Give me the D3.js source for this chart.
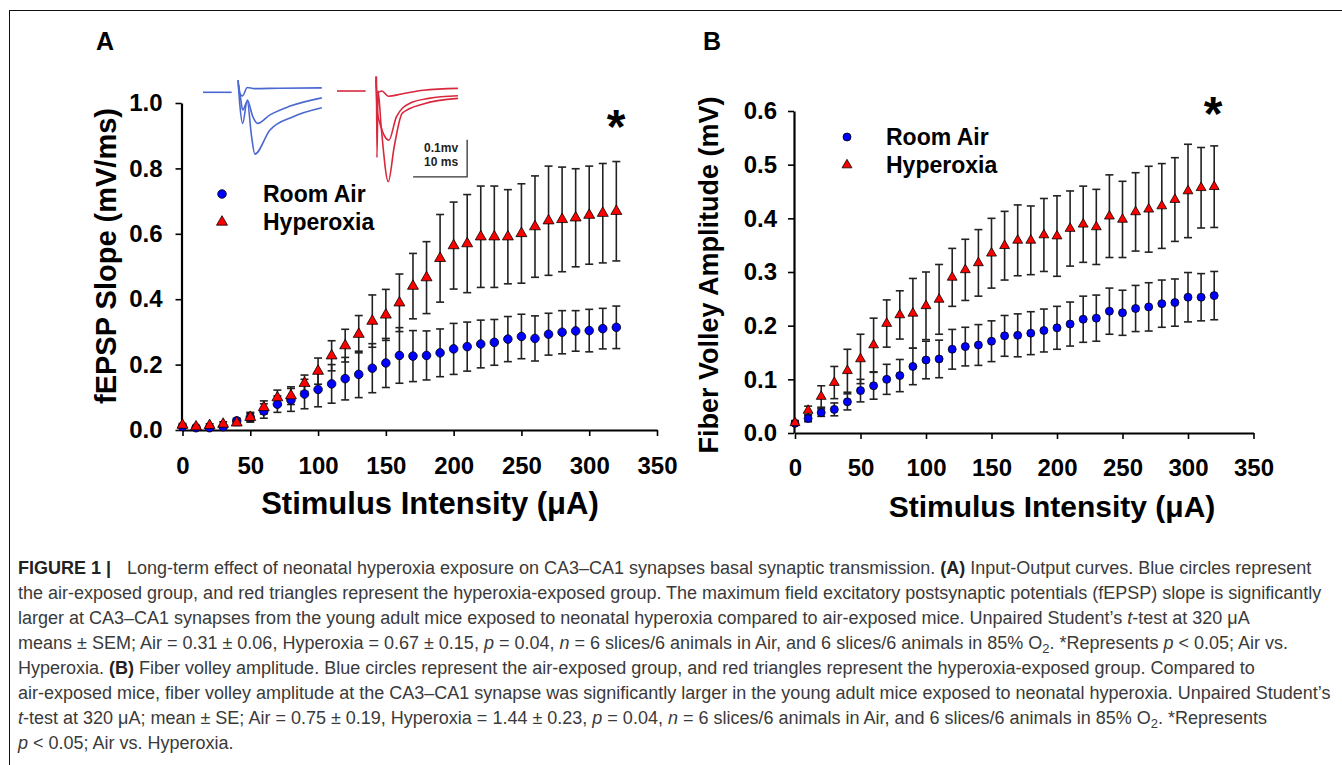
<!DOCTYPE html>
<html>
<head>
<meta charset="utf-8">
<script src="https://cdn.jsdelivr.net/npm/d3@7"></script>
<style>
  body { margin: 0; background: #fff; }
  svg { display: block; }
</style>
</head>
<body>
<svg id="fig" width="1342" height="765"></svg>
<script>
// stimulus intensities (uA)
const stimulus = [0, 10, 20, 30, 40, 50, 60, 70, 80, 90, 100, 110, 120, 130, 140, 150, 160,
  170, 180, 190, 200, 210, 220, 230, 240, 250, 260, 270, 280, 290, 300, 310, 320];
const xTicks = [0, 50, 100, 150, 200, 250, 300, 350];

// panel A: fEPSP slope (mV/ms), mean and SEM
const slopeAir = [0.010, 0.007, 0.007, 0.010, 0.028, 0.039, 0.058, 0.079, 0.092, 0.110, 0.124,
  0.141, 0.157, 0.170, 0.189, 0.205, 0.228, 0.226, 0.228, 0.236, 0.248, 0.255, 0.263, 0.268,
  0.278, 0.286, 0.280, 0.293, 0.299, 0.303, 0.304, 0.310, 0.314];
const slopeAirSem = [0.004, 0.004, 0.004, 0.005, 0.008, 0.012, 0.022, 0.025, 0.035, 0.045, 0.053,
  0.059, 0.065, 0.071, 0.075, 0.075, 0.085, 0.078, 0.075, 0.073, 0.078, 0.075, 0.073, 0.070,
  0.069, 0.068, 0.069, 0.064, 0.066, 0.062, 0.065, 0.062, 0.065];
const slopeHyp = [0.015, 0.010, 0.014, 0.018, 0.022, 0.039, 0.069, 0.099, 0.105, 0.143, 0.180,
  0.227, 0.258, 0.293, 0.333, 0.352, 0.389, 0.440, 0.466, 0.525, 0.564, 0.570, 0.591, 0.591,
  0.591, 0.601, 0.622, 0.640, 0.644, 0.649, 0.657, 0.663, 0.669];
const slopeHypSem = [0.005, 0.004, 0.005, 0.007, 0.008, 0.015, 0.020, 0.023, 0.027, 0.025, 0.040,
  0.046, 0.050, 0.057, 0.080, 0.078, 0.088, 0.100, 0.110, 0.134, 0.133, 0.150, 0.155, 0.155,
  0.144, 0.152, 0.155, 0.167, 0.160, 0.150, 0.150, 0.152, 0.152];
const slopeTicks = [0, 0.2, 0.4, 0.6, 0.8, 1.0];

// panel B: fiber volley amplitude (mV), mean and SEM
const fvAir = [0.018, 0.027, 0.038, 0.044, 0.058, 0.079, 0.088, 0.100, 0.107, 0.124, 0.136,
  0.138, 0.156, 0.161, 0.164, 0.171, 0.181, 0.182, 0.186, 0.191, 0.196, 0.203, 0.212, 0.214,
  0.227, 0.224, 0.232, 0.235, 0.241, 0.243, 0.253, 0.253, 0.256];
const fvAirSem = [0.003, 0.006, 0.007, 0.012, 0.015, 0.021, 0.025, 0.028, 0.030, 0.034, 0.035,
  0.035, 0.037, 0.036, 0.038, 0.038, 0.038, 0.040, 0.040, 0.040, 0.040, 0.041, 0.043, 0.043,
  0.043, 0.042, 0.043, 0.045, 0.044, 0.044, 0.046, 0.044, 0.045];
const fvHyp = [0.019, 0.042, 0.068, 0.094, 0.116, 0.138, 0.164, 0.204, 0.220, 0.223, 0.237,
  0.249, 0.290, 0.304, 0.317, 0.335, 0.349, 0.359, 0.359, 0.369, 0.367, 0.381, 0.389, 0.384,
  0.404, 0.398, 0.412, 0.417, 0.423, 0.435, 0.451, 0.457, 0.459];
const fvHypSem = [0.004, 0.008, 0.020, 0.030, 0.040, 0.046, 0.050, 0.044, 0.045, 0.065, 0.063,
  0.065, 0.054, 0.057, 0.062, 0.065, 0.064, 0.066, 0.064, 0.068, 0.075, 0.070, 0.071, 0.070,
  0.077, 0.071, 0.073, 0.080, 0.079, 0.078, 0.087, 0.075, 0.076];
const fvTicks = [0, 0.1, 0.2, 0.3, 0.4, 0.5, 0.6];

// inset example traces, [time ms, mV]
const airTraces = [
  [[0, 0], [5.3, 0]],
  [[6.5, 0.033], [6.7, 0.0], [7.3, -0.010], [8.2, 0.013], [9.5, 0.010], [14, 0.011], [22, 0.012]],
  [[6.5, 0.033], [6.8, -0.03], [7.35, -0.084], [8.2, -0.021], [9.2, -0.065], [10.1, -0.084], [12.4, -0.061], [16, -0.038], [22, -0.015]],
  [[6.6, 0.02], [7.0, -0.02], [7.35, -0.048], [8.2, -0.025], [9.0, -0.12], [9.6, -0.167], [12.4, -0.102], [16.7, -0.066], [22, -0.042]]
];
const hypTraces = [
  [[0, 0], [5.3, 0]],
  [[7.2, 0.039], [7.4, -0.005], [8.3, 0.0], [9.5, -0.014], [12, -0.008], [16, 0.002], [22.4, 0.007]],
  [[7.2, 0.03], [7.5, -0.06], [8.0, -0.09], [9.6, -0.133], [11, -0.07], [13.5, -0.033], [17, -0.02], [22.4, -0.013]],
  [[7.3, 0.039], [7.4, -0.18], [7.6, 0.0], [8.2, -0.1], [9.5, -0.245], [10.6, -0.15], [12.1, -0.06], [16, -0.035], [22.4, -0.02]]
];
const scaleBar = { t: 14.1, v: -0.232, dt: 10, dv: 0.1, labels: ["0.1mv", "10 ms"] };

const seriesNames = ["Room Air", "Hyperoxia"];

// caption lines: [text, style]
const caption = [
  [["FIGURE 1 |", "b"], ["Long-term effect of neonatal hyperoxia exposure on CA3–CA1 synapses basal synaptic transmission. ", "gap"], ["(A)", "b"], [" Input-Output curves. Blue circles represent"]],
  [["the air-exposed group, and red triangles represent the hyperoxia-exposed group. The maximum field excitatory postsynaptic potentials (fEPSP) slope is significantly"]],
  [["larger at CA3–CA1 synapses from the young adult mice exposed to neonatal hyperoxia compared to air-exposed mice. Unpaired Student’s "], ["t", "i"], ["-test at 320 μA"]],
  [["means ± SEM; Air = 0.31 ± 0.06, Hyperoxia = 0.67 ± 0.15, "], ["p", "i"], [" = 0.04, "], ["n", "i"], [" = 6 slices/6 animals in Air, and 6 slices/6 animals in 85% O"], ["2", "sub"], [". *Represents "], ["p", "i"], [" < 0.05; Air vs."]],
  [["Hyperoxia. "], ["(B)", "b"], [" Fiber volley amplitude. Blue circles represent the air-exposed group, and red triangles represent the hyperoxia-exposed group. Compared to"]],
  [["air-exposed mice, fiber volley amplitude at the CA3–CA1 synapse was significantly larger in the young adult mice exposed to neonatal hyperoxia. Unpaired Student’s"]],
  [["t", "i"], ["-test at 320 μA; mean ± SE; Air = 0.75 ± 0.19, Hyperoxia = 1.44 ± 0.23, "], ["p", "i"], [" = 0.04, "], ["n", "i"], [" = 6 slices/6 animals in Air, and 6 slices/6 animals in 85% O"], ["2", "sub"], [". *Represents"]],
  [["p", "i"], [" < 0.05; Air vs. Hyperoxia."]]
];

const FONT = "'Liberation Sans', Arial, Helvetica, sans-serif";
const svg = d3.select("#fig").style("font-family", FONT);

svg.append("rect").attr("width", 1342).attr("height", 765).attr("fill", "#fff");

// outer frame
svg.append("rect")
  .attr("x", 9.5).attr("y", 10.5)
  .attr("width", 1340).attr("height", 770)
  .attr("fill", "none").attr("stroke", "#111").attr("stroke-width", 1);

function drawPanel(cfg) {
  const x = d3.scaleLinear().domain([0, 350]).range(cfg.xRange);
  const y = d3.scaleLinear().domain(cfg.yDomain).range(cfg.yRange);
  const g = svg.append("g");

  // x axis
  const gx = g.append("g")
    .attr("transform", `translate(0,${cfg.yRange[0]})`)
    .call(d3.axisBottom(x).tickValues(xTicks).tickSize(6).tickSizeOuter(0).tickPadding(cfg.xPad));
  // y axis
  const gy = g.append("g")
    .attr("transform", `translate(${cfg.xRange[0] - 1},0)`)
    .call(d3.axisLeft(y).tickValues(cfg.yTicks).tickSize(6).tickSizeOuter(0)
      .tickPadding(cfg.yPad).tickFormat(d3.format(".1f")));

  [gx, gy].forEach((a) => {
    a.select(".domain").attr("stroke", "#000").attr("stroke-width", 2.2);
    a.selectAll(".tick line").attr("stroke", "#000").attr("stroke-width", 1.6);
    a.selectAll(".tick text")
      .attr("fill", "#000")
      .attr("font-family", FONT)
      .attr("font-weight", "bold")
      .attr("font-size", 24);
  });

  // axis titles
  g.append("text")
    .attr("x", cfg.xTitle[0]).attr("y", cfg.xTitle[1])
    .attr("text-anchor", "middle")
    .attr("font-weight", "bold").attr("font-size", cfg.xTitleSize)
    .text("Stimulus Intensity (μA)");
  g.append("text")
    .attr("transform", `translate(${cfg.yTitle[0]},${cfg.yTitle[1]}) rotate(-90)`)
    .attr("text-anchor", "middle")
    .attr("font-weight", "bold").attr("font-size", cfg.yTitleSize)
    .text(cfg.yLabel);

  // panel letter
  g.append("text")
    .attr("x", cfg.letter[0]).attr("y", cfg.letter[1])
    .attr("text-anchor", "middle")
    .attr("font-weight", "bold").attr("font-size", 25)
    .text(cfg.name);

  // significance star
  g.append("text")
    .attr("x", cfg.star[0]).attr("y", cfg.star[1])
    .attr("text-anchor", "middle")
    .attr("font-weight", "bold").attr("font-size", 48)
    .text("*");

  const series = [
    { mean: cfg.air, sem: cfg.airSem },
    { mean: cfg.hyp, sem: cfg.hypSem }
  ];

  // error bars
  const cap = 4;
  series.forEach((s) => {
    const eb = g.append("g").attr("stroke", "#222").attr("stroke-width", 1.6);
    stimulus.forEach((u, i) => {
      const lo = y(s.mean[i] - s.sem[i]);
      const hi = y(s.mean[i] + s.sem[i]);
      const cx = x(u);
      eb.append("line").attr("x1", cx).attr("x2", cx).attr("y1", lo).attr("y2", hi);
      eb.append("line").attr("x1", cx - cap).attr("x2", cx + cap).attr("y1", lo).attr("y2", lo);
      eb.append("line").attr("x1", cx - cap).attr("x2", cx + cap).attr("y1", hi).attr("y2", hi);
    });
  });

  // markers
  g.append("g").selectAll("circle")
    .data(stimulus)
    .join("circle")
    .attr("cx", (u) => x(u))
    .attr("cy", (u, i) => y(cfg.air[i]))
    .attr("r", cfg.r)
    .attr("fill", "#0000ff").attr("stroke", "#000").attr("stroke-width", 0.8);

  const tri = d3.symbol(d3.symbolTriangle).size(cfg.triSize);
  g.append("g").selectAll("path")
    .data(stimulus)
    .join("path")
    .attr("transform", (u, i) => `translate(${x(u)},${y(cfg.hyp[i])})`)
    .attr("d", tri)
    .attr("fill", "#ff0000").attr("stroke", "#000").attr("stroke-width", 0.8);

  // legend
  const lg = g.append("g");
  lg.append("circle")
    .attr("cx", cfg.legend[0]).attr("cy", cfg.legend[1]).attr("r", cfg.r)
    .attr("fill", "#0000ff").attr("stroke", "#000").attr("stroke-width", 0.8);
  lg.append("path")
    .attr("transform", `translate(${cfg.legend[0]},${cfg.legend[1] + 28})`)
    .attr("d", tri)
    .attr("fill", "#ff0000").attr("stroke", "#000").attr("stroke-width", 0.8);
  seriesNames.forEach((nm, i) => {
    lg.append("text")
      .attr("x", cfg.legend[2]).attr("y", cfg.legend[1] + 8 + i * 28)
      .attr("font-weight", "bold").attr("font-size", 23)
      .text(nm);
  });
}

drawPanel({
  name: "A",
  xRange: [182.5, 657], yDomain: [0, 1], yRange: [430, 103],
  yTicks: slopeTicks, xPad: 21, yPad: 13,
  air: slopeAir, airSem: slopeAirSem, hyp: slopeHyp, hypSem: slopeHypSem,
  yLabel: "fEPSP Slope (mV/ms)", yTitle: [116, 256], yTitleSize: 29,
  xTitle: [430, 514], xTitleSize: 31,
  letter: [105, 50], star: [616, 143],
  legend: [222, 194, 263], r: 4.3, triSize: 52
});

drawPanel({
  name: "B",
  xRange: [795, 1253.5], yDomain: [0, 0.6], yRange: [433, 111],
  yTicks: fvTicks, xPad: 20, yPad: 11,
  air: fvAir, airSem: fvAirSem, hyp: fvHyp, hypSem: fvHypSem,
  yLabel: "Fiber Volley Amplitude (mV)", yTitle: [718, 275], yTitleSize: 27,
  xTitle: [1052, 517], xTitleSize: 30,
  letter: [712, 50], star: [1213, 130],
  legend: [847, 137, 886], r: 4, triSize: 42
});

// inset traces in panel A
function drawTraces(traces, x0, y0, color) {
  const tx = d3.scaleLinear().domain([0, 10]).range([x0, x0 + 54]);
  const ty = d3.scaleLinear().domain([0, 0.1]).range([y0, y0 - 37]);
  const line = d3.line().x((d) => tx(d[0])).y((d) => ty(d[1])).curve(d3.curveMonotoneX);
  svg.append("g").selectAll("path")
    .data(traces)
    .join("path")
    .attr("d", line)
    .attr("fill", "none").attr("stroke", color).attr("stroke-width", 1.6);
  return { tx, ty };
}
drawTraces(airTraces, 203, 92.3, "#4a68d2");
const hypInset = drawTraces(hypTraces, 337, 91, "#d8283c");

// scale bar
const sbx0 = hypInset.tx(scaleBar.t), sbx1 = hypInset.tx(scaleBar.t + scaleBar.dt);
const sby0 = hypInset.ty(scaleBar.v), sby1 = hypInset.ty(scaleBar.v + scaleBar.dv);
svg.append("path")
  .attr("d", `M${sbx0},${sby0}H${sbx1}V${sby1}`)
  .attr("fill", "none").attr("stroke", "#333").attr("stroke-width", 1.3);
scaleBar.labels.forEach((t, i) => {
  svg.append("text")
    .attr("x", sbx1 - 9).attr("y", sby1 + 12 + i * 14)
    .attr("text-anchor", "end")
    .attr("font-weight", "bold").attr("font-size", 12)
    .attr("fill", "#222")
    .text(t);
});

// caption
const capG = svg.append("g")
  .attr("font-size", 18)
  .attr("fill", "#3a3a3a");
caption.forEach((segs, li) => {
  const t = capG.append("text").attr("x", 18).attr("y", 574 + li * 25);
  let shifted = false;
  segs.forEach(([s, st]) => {
    const ts = t.append("tspan").text(s);
    if (shifted) { ts.attr("dy", -4); shifted = false; }
    if (st === "b") ts.attr("font-weight", "bold").attr("fill", "#222");
    if (st === "i") ts.attr("font-style", "italic");
    if (st === "gap") ts.attr("dx", 16);
    if (st === "sub") { ts.attr("font-size", 13).attr("dy", 4); shifted = true; }
  });
});
</script>
</body>
</html>
